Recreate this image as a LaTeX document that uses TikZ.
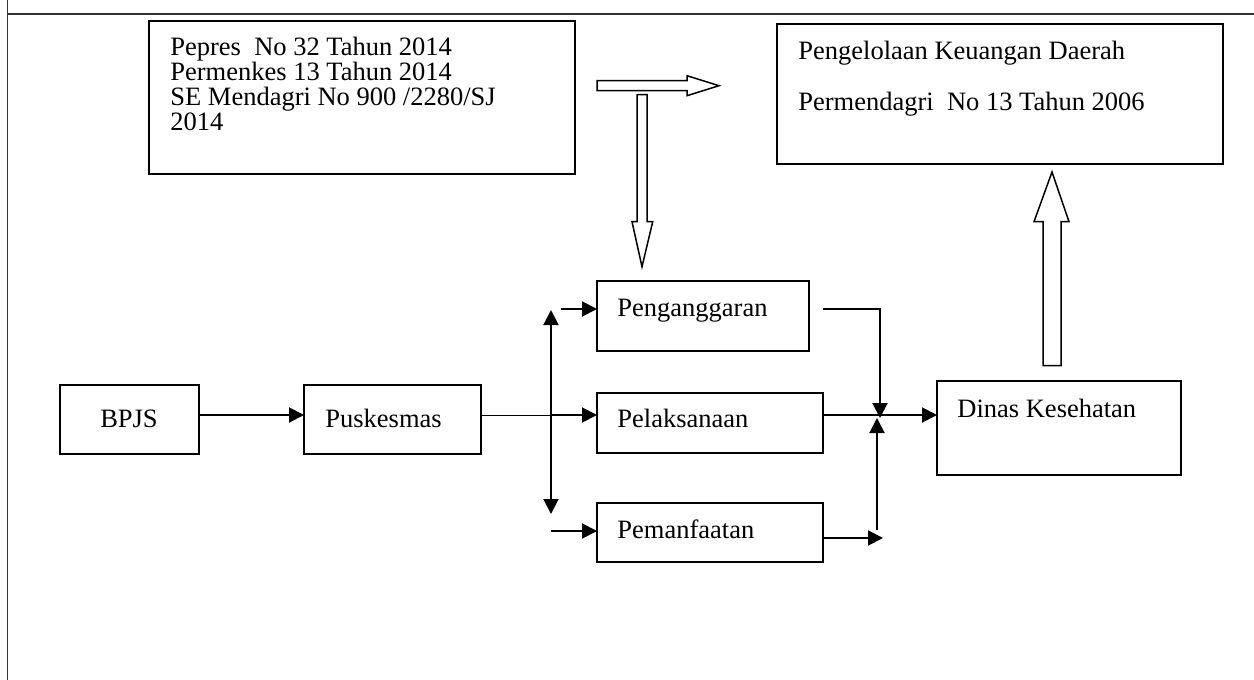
\documentclass[tikz,border=0pt]{standalone}
\usepackage{fontspec}
\setmainfont{Liberation Serif}
\usetikzlibrary{arrows.meta,calc}
\begin{document}
\begin{tikzpicture}[x=0.5pt,y=-0.5pt,
  box/.style={draw,line width=0.9pt,anchor=north west,inner sep=0pt,outer sep=0pt},
  txt/.style={anchor=base west,inner sep=0pt,font=\fontsize{13.25pt}{13pt}\selectfont},
  conn/.style={line width=1pt,-{Triangle[length=7.5pt,width=7.5pt]}},
  dconn/.style={line width=1pt,{Triangle[length=7.5pt,width=7.5pt]}-{Triangle[length=7.5pt,width=7.5pt]}},
  blockarrow/.style={draw,line width=0.75pt,fill=white,line join=miter}]
\useasboundingbox (0,0) rectangle (1254,680);
% frame
\draw[line width=0.7pt,black!80] (7.5,0) -- (7.5,680);
\draw[line width=0.7pt,black!80] (7.5,14) -- (1254,14);
% boxes
\node[box,minimum width=213pt,minimum height=76.5pt] (legal) at (149,21) {};
\node[box,minimum width=223pt,minimum height=70pt] (pkd) at (777,24) {};
\node[box,minimum width=69.5pt,minimum height=34.5pt] (bpjs) at (60,385) {};
\node[box,minimum width=88.5pt,minimum height=34.5pt] (pusk) at (304,385) {};
\node[box,minimum width=106pt,minimum height=35pt] (peng) at (597,281) {};
\node[box,minimum width=113pt,minimum height=30pt] (pel) at (597,393) {};
\node[box,minimum width=113pt,minimum height=29.5pt] (pem) at (597,503) {};
\node[box,minimum width=122pt,minimum height=47pt] (dinas) at (937,381) {};
% texts
\node[txt] (l1) at (170,55) {Pepres~ No 32 Tahun 2014};
\node[txt] (l2) at (170,80) {Permenkes 13 Tahun 2014};
\node[txt] (l3) at (170,105) {SE Mendagri No 900 /2280/SJ};
\node[txt] (l4) at (170,130) {2014};
\node[txt] (k1) at (798,60) {Pengelolaan Keuangan Daerah};
\node[txt] (k2) at (798,110) {Permendagri~ No 13 Tahun 2006};
\node[txt,anchor=base] (tb) at (129,427) {BPJS};
\node[txt] (tp) at (325,427) {Puskesmas};
\node[txt] (tg) at (617,316) {Penganggaran};
\node[txt] (tl) at (617,427) {Pelaksanaan};
\node[txt] (tm) at (617,538) {Pemanfaatan};
\node[txt] (td) at (957,417) {Dinas Kesehatan};
% block arrows
\draw[blockarrow] (597,80.7) -- (687,80.7) -- (687,75.7) -- (719,85.7) -- (687,95.7) -- (687,90.7) -- (597,90.7) -- cycle;
\draw[blockarrow] (637,94.7) -- (647,94.7) -- (647,221.7) -- (652.7,221.7) -- (642,266.7) -- (632,221.7) -- (637,221.7) -- cycle;
\draw[blockarrow] (1043,365.7) -- (1061,365.7) -- (1061,221.7) -- (1069,221.7) -- (1052,172) -- (1034,221.7) -- (1043,221.7) -- cycle;
% coordinates
\coordinate (row) at (0,415);
\coordinate (split) at (551,415);
\coordinate (vt) at (551,310);
\coordinate (vb) at (551,514);
\coordinate (pin) at (561,309);
\coordinate (min) at (551,531);
\coordinate (po) at (823,309);
\coordinate (j) at (880,418);
\coordinate (mo) at (822,538);
\coordinate (mt) at (883,538);
\coordinate (ub) at (877,530);
\coordinate (ut) at (877,418);
% connectors
\draw[conn] (bpjs.east |- row) -- (pusk.west |- row);
\draw[line width=0.5pt] (pusk.east |- row) -- (split);
\draw[conn] (split) -- (pel.west |- row);
\draw[dconn] (vt) -- (vb);
\draw[conn] (pin) -- (pin -| peng.west);
\draw[conn] (min) -- (min -| pem.west);
\draw[conn] (po) -| (j);
\draw[conn] (pel.east |- row) -- (dinas.west |- row);
\draw[conn] (mo) -- (mt);
\draw[conn] (ub) -- (ut);
\end{tikzpicture}
\end{document}
